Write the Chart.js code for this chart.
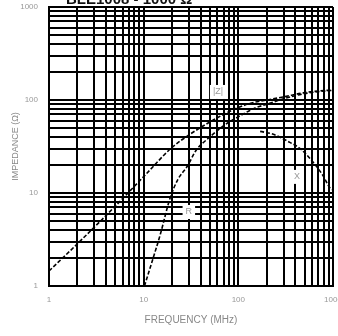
<!DOCTYPE html>
<html>
<head>
<meta charset="utf-8">
<script src="https://cdn.jsdelivr.net/npm/chart.js@4.4.0/dist/chart.umd.min.js"></script>
<style>
  html, body { margin: 0; padding: 0; background: #fff; }
  #wrap { width: 338px; height: 336px; }
</style>
</head>
<body>
<div id="wrap"><canvas id="impChart" width="338" height="336"></canvas></div>
<script>
// values (MHz / ohm)
const zFreq = [1, 2, 5, 10, 20, 30, 50, 70, 100, 150, 200, 300, 500, 700, 1000];
const zVals = [1.45, 2.85, 7.2, 15, 31, 42, 58, 70, 83, 95, 100, 108, 120, 125, 128];

const rFreq = [10.2, 12, 15, 19, 23, 29, 36, 50, 70, 100, 150, 200, 300, 500, 700, 1000];
const rVals = [1.0, 1.7, 3.6, 8.8, 14, 19.5, 29, 40, 53, 66, 82, 90, 103, 117, 123, 127];

const xFreq = [170, 230, 350, 450, 615, 780, 930, 1000];
const xVals = [46, 43, 35, 30, 21.5, 15.5, 11.3, 10.8];

// tick labels shown on both axes
const majorTicks = [1, 10, 100, 1000];

// log grid: 1..9 in every decade
const gridTicks = [];
for (let d of [1, 10, 100]) {
    for (let m = 1; m <= 9; m++) gridTicks.push(d * m);
}
gridTicks.push(1000);

function toPoints(fs, vs) {
    return fs.map((f, i) => ({ x: f, y: vs[i] }));
}

// curve name labels with white boxes behind, placed in data coords
const curveLabels = [
    { text: '|Z|', f: 61, v: 122 },
    { text: 'R', f: 30, v: 6.25 },
    { text: 'X', f: 416, v: 14.9 }
];

const labelPlugin = {
    id: 'curveLabels',
    afterDatasetsDraw(chart) {
        const ctx = chart.ctx;
        const xs = chart.scales.x, ys = chart.scales.y;
        ctx.save();
        ctx.font = '9px "Liberation Sans", Arial, sans-serif';
        ctx.textAlign = 'center';
        ctx.textBaseline = 'middle';
        curveLabels.forEach(l => {
            const px = xs.getPixelForValue(l.f);
            const py = ys.getPixelForValue(l.v);
            const w = ctx.measureText(l.text).width + 6;
            ctx.fillStyle = '#fff';
            ctx.fillRect(px - w / 2, py - 7, w, 14);
            ctx.fillStyle = '#999';
            ctx.fillText(l.text, px, py);
        });
        // part number heading, mostly cut off by the top edge
        ctx.fillStyle = '#111';
        ctx.font = 'bold 15px "Liberation Sans", Arial, sans-serif';
        ctx.textAlign = 'left';
        ctx.textBaseline = 'alphabetic';
        ctx.fillText('BLE1008 - 1000 Ω', 66, 4);
        ctx.restore();
    }
};

const tickFont = { size: 8, family: '"Liberation Sans", Arial, sans-serif' };
const lineStyle = {
    borderColor: '#000',
    borderWidth: 1.6,
    borderDash: [4, 2],
    pointRadius: 0,
    fill: false,
    cubicInterpolationMode: 'monotone'
};

new Chart(document.getElementById('impChart'), {
    type: 'line',
    data: {
        datasets: [
            Object.assign({ label: '|Z|', data: toPoints(zFreq, zVals) }, lineStyle),
            Object.assign({ label: 'R', data: toPoints(rFreq, rVals) }, lineStyle),
            Object.assign({ label: 'X', data: toPoints(xFreq, xVals) }, lineStyle)
        ]
    },
    options: {
        responsive: false,
        animation: false,
        devicePixelRatio: 1,
        layout: { padding: { top: 7, right: 5, left: 0, bottom: 0 } },
        plugins: { legend: { display: false }, tooltip: { enabled: false } },
        scales: {
            x: {
                type: 'logarithmic',
                min: 1,
                max: 1000,
                afterBuildTicks: s => { s.ticks = gridTicks.map(v => ({ value: v })); },
                afterFit: s => { s.height = 50; s.paddingLeft = 0; s.paddingRight = 0; },
                ticks: {
                    autoSkip: false,
                    maxRotation: 0,
                    padding: 9,
                    color: '#999',
                    font: tickFont,
                    callback: v => majorTicks.includes(v) ? String(v) : ''
                },
                grid: { color: '#000', lineWidth: 2, drawTicks: false },
                border: { color: '#000', width: 2 },
                title: {
                    display: true,
                    text: 'FREQUENCY (MHz)',
                    color: '#888',
                    font: { size: 10, family: '"Liberation Sans", Arial, sans-serif' },
                    padding: { top: 0, bottom: 10 }
                }
            },
            y: {
                type: 'logarithmic',
                min: 1,
                max: 1000,
                afterBuildTicks: s => { s.ticks = gridTicks.map(v => ({ value: v })); },
                afterFit: s => { s.width = 49; s.paddingTop = 0; s.paddingBottom = 0; },
                ticks: {
                    autoSkip: false,
                    padding: 11,
                    color: '#999',
                    font: tickFont,
                    callback: v => majorTicks.includes(v) ? String(v) : ''
                },
                grid: { color: '#000', lineWidth: 2, drawTicks: false },
                border: { color: '#000', width: 2 },
                title: {
                    display: true,
                    text: 'IMPEDANCE (Ω)',
                    color: '#888',
                    font: { size: 9, family: '"Liberation Sans", Arial, sans-serif' },
                    padding: { top: 10, bottom: 0 }
                }
            }
        }
    },
    plugins: [labelPlugin]
});
</script>
</body>
</html>
